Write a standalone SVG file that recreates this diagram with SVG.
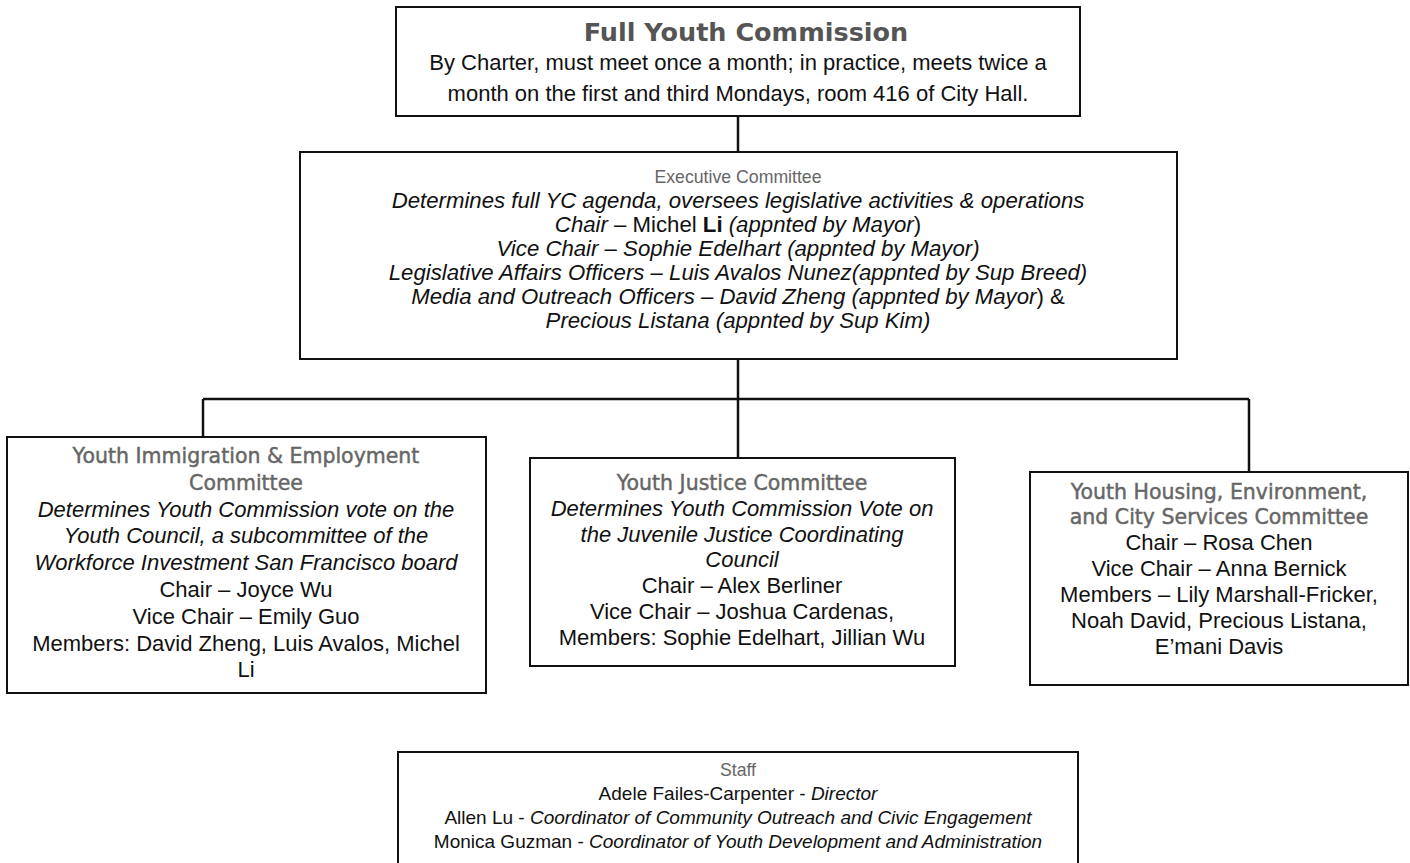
<svg xmlns="http://www.w3.org/2000/svg" width="1410" height="863" viewBox="0 0 1410 863">
<style>
.box{fill:#fff;stroke:#111;stroke-width:2}
.ln{stroke:#111;stroke-width:2.5;fill:none}
text{font-family:"Liberation Sans",Arial,sans-serif;fill:#111;text-anchor:middle}
.h{font-family:"DejaVu Sans","Liberation Sans",sans-serif;font-size:20.5px;fill:#666;stroke:#666;stroke-width:0.45}
.g{fill:#666;font-size:17.7px}
.i{font-style:italic}
.s22{font-size:22px}
.s19{font-size:19px}
.ex{font-size:22.2px}
</style>
<rect width="1410" height="863" fill="#fff"/>
<g id="connectors">
<path class="ln" d="M738 116V152M738 359V399M203 399H1249M203 399V437M738 399V458M1249 399V472"/>
</g>
<g id="full-youth-commission">
<rect class="box" x="396" y="7" width="684" height="109"/>
<text x="746" y="41" class="h" style="font-size:25.5px;font-weight:bold;fill:#555;stroke:none">Full Youth Commission</text>
<text x="738" y="70" class="s22">By Charter, must meet once a month; in practice, meets twice a</text>
<text x="738" y="101" class="s22">month on the first and third Mondays, room 416 of City Hall.</text>
</g>
<g id="executive-committee" class="ex">
<rect class="box" x="300" y="152" width="877" height="207"/>
<text x="738" y="183" class="g">Executive Committee</text>
<text x="738" y="208" class="i">Determines full YC agenda, oversees legislative activities &amp; operations</text>
<text x="738" y="232"><tspan class="i">Chair</tspan> – Michel <tspan font-weight="bold">Li</tspan> <tspan class="i">(appnted by Mayor</tspan>)</text>
<text x="738" y="256" class="i">Vice Chair – Sophie Edelhart (appnted by Mayor)</text>
<text x="738" y="280" class="i">Legislative Affairs Officers – Luis Avalos Nunez(appnted by Sup Breed)</text>
<text x="738" y="304"><tspan class="i">Media and Outreach Officers – David Zheng (appnted by Mayor</tspan>) &amp;</text>
<text x="738" y="328" class="i">Precious Listana (appnted by Sup Kim)</text>
</g>
<g id="immigration-employment-committee" class="s22">
<rect class="box" x="7" y="437" width="479" height="256"/>
<text x="246" y="463" class="h">Youth Immigration &amp; Employment</text>
<text x="246" y="490" class="h">Committee</text>
<text x="246" y="517" class="i">Determines Youth Commission vote on the</text>
<text x="246" y="543" class="i">Youth Council, a subcommittee of the</text>
<text x="246" y="570" class="i">Workforce Investment San Francisco board</text>
<text x="246" y="597">Chair – Joyce Wu</text>
<text x="246" y="624">Vice Chair – Emily Guo</text>
<text x="246" y="651">Members: David Zheng, Luis Avalos, Michel</text>
<text x="246" y="677">Li</text>
</g>
<g id="justice-committee" class="s22">
<rect class="box" x="530" y="458" width="425" height="208"/>
<text x="742" y="490" class="h">Youth Justice Committee</text>
<text x="742" y="516" class="i">Determines Youth Commission Vote on</text>
<text x="742" y="542" class="i">the Juvenile Justice Coordinating</text>
<text x="742" y="567" class="i">Council</text>
<text x="742" y="593">Chair – Alex Berliner</text>
<text x="742" y="619">Vice Chair – Joshua Cardenas,</text>
<text x="742" y="645">Members: Sophie Edelhart, Jillian Wu</text>
</g>
<g id="housing-committee" class="s22">
<rect class="box" x="1030" y="472" width="378" height="213"/>
<text x="1219" y="499" class="h">Youth Housing, Environment,</text>
<text x="1219" y="524" class="h">and City Services Committee</text>
<text x="1219" y="550">Chair – Rosa Chen</text>
<text x="1219" y="576">Vice Chair – Anna Bernick</text>
<text x="1219" y="602">Members – Lily Marshall-Fricker,</text>
<text x="1219" y="628">Noah David, Precious Listana,</text>
<text x="1219" y="654">E’mani Davis</text>
</g>
<g id="staff" class="s19">
<rect class="box" x="398" y="752" width="680" height="120"/>
<text x="738" y="776" class="g">Staff</text>
<text x="738" y="800">Adele Failes-Carpenter - <tspan class="i">Director</tspan></text>
<text x="738" y="824">Allen Lu - <tspan class="i">Coordinator of Community  Outreach and Civic Engagement</tspan></text>
<text x="738" y="848">Monica Guzman - <tspan class="i">Coordinator of Youth Development and Administration</tspan></text>
</g>
</svg>
